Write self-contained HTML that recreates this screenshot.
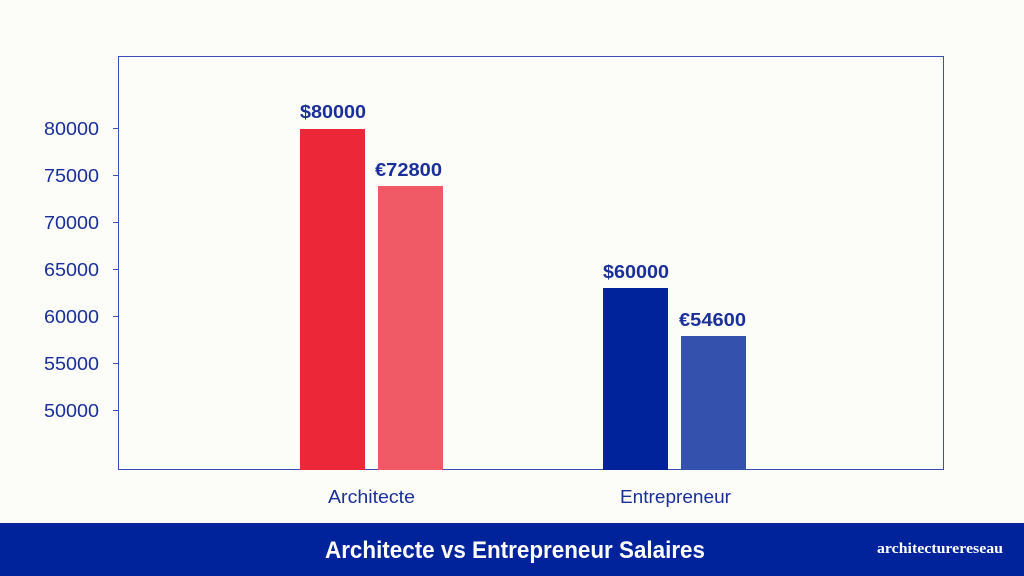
<!DOCTYPE html>
<html><head><meta charset="utf-8"><style>
html,body{margin:0;padding:0;background:#fcfcf8;}
svg{display:block}
</style></head><body>
<svg width="1024" height="576" xmlns="http://www.w3.org/2000/svg">
<rect width="1024" height="576" fill="#fcfcf8"/>
<rect x="118.5" y="56.5" width="825" height="413" fill="none" stroke="#3a4fb5" stroke-width="1"/>
<g stroke="#3a4fb5" stroke-width="1">
<line x1="113" x2="118" y1="128.5" y2="128.5"/>
<line x1="113" x2="118" y1="175.5" y2="175.5"/>
<line x1="113" x2="118" y1="222.5" y2="222.5"/>
<line x1="113" x2="118" y1="269.5" y2="269.5"/>
<line x1="113" x2="118" y1="316.5" y2="316.5"/>
<line x1="113" x2="118" y1="363.5" y2="363.5"/>
<line x1="113" x2="118" y1="410.5" y2="410.5"/>
</g>
<g font-family="Liberation Sans, sans-serif" font-size="18" fill="#1a2f9a">
<text x="44" y="135" textLength="55" lengthAdjust="spacingAndGlyphs">80000</text>
<text x="44" y="182" textLength="55" lengthAdjust="spacingAndGlyphs">75000</text>
<text x="44" y="229" textLength="55" lengthAdjust="spacingAndGlyphs">70000</text>
<text x="44" y="276" textLength="55" lengthAdjust="spacingAndGlyphs">65000</text>
<text x="44" y="323" textLength="55" lengthAdjust="spacingAndGlyphs">60000</text>
<text x="44" y="370" textLength="55" lengthAdjust="spacingAndGlyphs">55000</text>
<text x="44" y="417" textLength="55" lengthAdjust="spacingAndGlyphs">50000</text>
</g>
<rect x="300" y="129" width="65" height="341" fill="#ec2838"/>
<rect x="378" y="186" width="65" height="284" fill="#f05a67"/>
<rect x="603" y="288" width="65" height="182" fill="#00239c"/>
<rect x="681" y="336" width="65" height="134" fill="#3452ad"/>
<g font-family="Liberation Sans, sans-serif" font-size="18" font-weight="bold" fill="#1a2f9a">
<text x="300" y="118" textLength="66" lengthAdjust="spacingAndGlyphs">$80000</text>
<text x="375" y="176" textLength="67" lengthAdjust="spacingAndGlyphs">€72800</text>
<text x="603" y="278" textLength="66" lengthAdjust="spacingAndGlyphs">$60000</text>
<text x="679" y="326" textLength="67" lengthAdjust="spacingAndGlyphs">€54600</text>
</g>
<g font-family="Liberation Sans, sans-serif" font-size="18" fill="#1a2f9a">
<text x="328" y="503" textLength="87" lengthAdjust="spacingAndGlyphs">Architecte</text>
<text x="620" y="503" textLength="111" lengthAdjust="spacingAndGlyphs">Entrepreneur</text>
</g>
<rect x="0" y="523" width="1024" height="53" fill="#00239c"/>
<text x="325" y="558" font-family="Liberation Sans, sans-serif" font-weight="bold" font-size="24" fill="#fff" textLength="380" lengthAdjust="spacingAndGlyphs">Architecte vs Entrepreneur Salaires</text>
<text x="877" y="553" font-family="Liberation Serif, serif" font-weight="bold" font-size="15" fill="#fff" textLength="126" lengthAdjust="spacingAndGlyphs">architecturereseau</text>
</svg>
</body></html>
